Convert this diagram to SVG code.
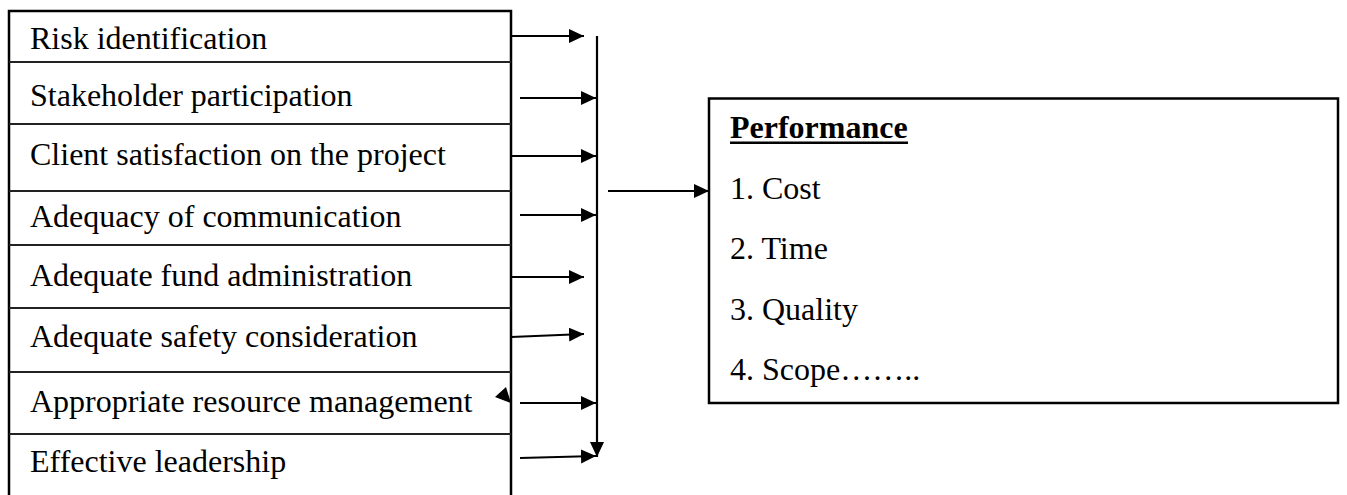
<svg xmlns="http://www.w3.org/2000/svg" width="1347" height="495" viewBox="0 0 1347 495">
<style>
  .t { font-family: "Liberation Serif", "Times New Roman", serif; font-size: 32px; fill: #000; }
  .b { font-weight: bold; }
  .box { fill: #fff; stroke: #000; stroke-width: 2.5; }
  .div { stroke: #222; stroke-width: 1.8; }
  .conn { stroke: #000; stroke-width: 2.2; fill: none; }
</style>
<defs>
  <marker id="ah" markerUnits="userSpaceOnUse" markerWidth="16" markerHeight="15" refX="15" refY="7" orient="auto">
    <path d="M0,0 L15,7 L0,14 Z" fill="#000"/>
  </marker>
</defs>
<rect width="1347" height="495" fill="#fff"/>

<g id="factors">
  <rect class="box" x="9" y="11" width="502" height="490"/>
  <line class="div" x1="9" y1="62" x2="511" y2="62"/>
  <line class="div" x1="9" y1="124" x2="511" y2="124"/>
  <line class="div" x1="9" y1="191" x2="511" y2="191"/>
  <line class="div" x1="9" y1="245" x2="511" y2="245"/>
  <line class="div" x1="9" y1="308" x2="511" y2="308"/>
  <line class="div" x1="9" y1="372" x2="511" y2="372"/>
  <line class="div" x1="9" y1="434" x2="511" y2="434"/>
</g>
<g id="f1"><text class="t" x="30" y="49">Risk identification</text></g>
<g id="f2"><text class="t" x="30" y="106">Stakeholder participation</text></g>
<g id="f3"><text class="t" x="30" y="165">Client satisfaction on the project</text></g>
<g id="f4"><text class="t" x="30" y="227">Adequacy of communication</text></g>
<g id="f5"><text class="t" x="30" y="286">Adequate fund administration</text></g>
<g id="f6"><text class="t" x="30" y="347">Adequate safety consideration</text></g>
<g id="f7"><text class="t" x="30" y="412">Appropriate resource management</text></g>
<g id="f8"><text class="t" x="30" y="472">Effective leadership</text></g>

<g id="performance">
  <rect class="box" x="709" y="98.5" width="629" height="304.5"/>
  <text class="t b" x="730" y="138">Performance</text>
  <rect x="730" y="141.5" width="178" height="2.5" fill="#000"/>
  <text class="t" x="730" y="199">1. Cost</text>
  <text class="t" x="730" y="259">2. Time</text>
  <text class="t" x="730" y="320">3. Quality</text>
  <text class="t" x="730" y="380">4. Scope……..</text>
</g>

<g id="connectors">
  <line class="conn" x1="511" y1="36" x2="584" y2="36" marker-end="url(#ah)"/>
  <line class="conn" x1="520" y1="98" x2="596" y2="98" marker-end="url(#ah)"/>
  <line class="conn" x1="511" y1="156" x2="596" y2="156" marker-end="url(#ah)"/>
  <line class="conn" x1="520" y1="215" x2="596" y2="215" marker-end="url(#ah)"/>
  <line class="conn" x1="511" y1="277" x2="584" y2="277" marker-end="url(#ah)"/>
  <line class="conn" x1="511" y1="337" x2="584" y2="334" marker-end="url(#ah)"/>
  <line class="conn" x1="520" y1="403" x2="596" y2="403" marker-end="url(#ah)"/>
  <line class="conn" x1="520" y1="458" x2="596" y2="456" marker-end="url(#ah)"/>
  <line class="conn" x1="597" y1="36" x2="597" y2="457" marker-end="url(#ah)"/>
  <line class="conn" x1="608" y1="191" x2="709" y2="191" marker-end="url(#ah)"/>
  <polygon points="495,397 506,387 511,403" fill="#000"/>
</g>
</svg>
